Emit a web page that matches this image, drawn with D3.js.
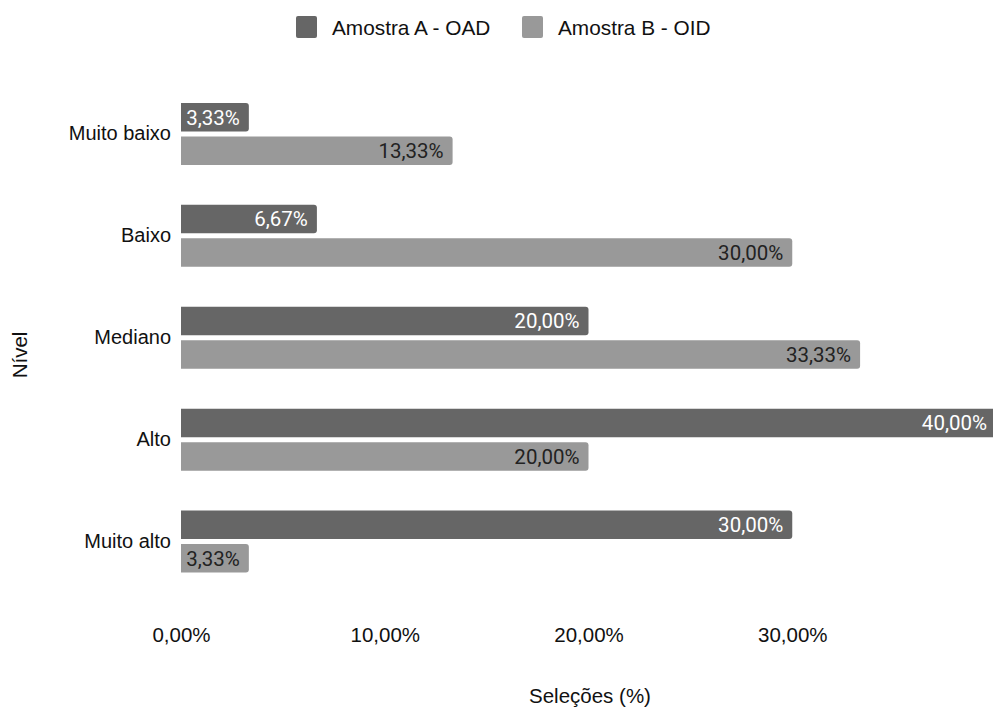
<!DOCTYPE html>
<html>
<head>
<meta charset="utf-8">
<script src="https://cdn.jsdelivr.net/npm/d3@7"></script>
<style>
  html, body { margin: 0; padding: 0; background: #fff; }
  svg { display: block; }
</style>
</head>
<body>
<script>
// Níveis avaliados e percentual de seleções por amostra
const categories = ["Muito baixo", "Baixo", "Mediano", "Alto", "Muito alto"];
const seriesNames = ["Amostra A - OAD", "Amostra B - OID"];
const amostraA = [3.33, 6.67, 20.00, 40.00, 30.00];
const amostraB = [13.33, 30.00, 33.33, 20.00, 3.33];
const xTicks = [0, 10, 20, 30];
const seriesColors = ["#666666", "#999999"];
const labelColors = ["#ffffff", "#222222"];

const W = 993, H = 708;
const svg = d3.select("body").append("svg").attr("width", W).attr("height", H);

const x = d3.scaleLinear().domain([0, 40]).range([181, 996]);
const y0 = d3.scaleBand().domain(categories).range([83, 592.5]).paddingInner(0.392).paddingOuter(0.196);
const y1 = d3.scaleBand().domain(seriesNames).range([0, y0.bandwidth()]).paddingInner(0.149);

const fmt = v => d3.format(".2f")(v).replace(".", ",") + "%";

const rows = categories.map((c, i) => ({
  cat: c,
  vals: [
    { s: seriesNames[0], v: amostraA[i], k: 0 },
    { s: seriesNames[1], v: amostraB[i], k: 1 }
  ]
}));

// Bar with rounded corners on the value end only
function barPath(x0, x1, yTop, h, r) {
  r = Math.min(r, (x1 - x0) / 2, h / 2);
  return `M${x0},${yTop}H${x1 - r}Q${x1},${yTop} ${x1},${yTop + r}` +
         `V${yTop + h - r}Q${x1},${yTop + h} ${x1 - r},${yTop + h}H${x0}Z`;
}

const groups = svg.append("g").selectAll("g").data(rows).join("g")
  .attr("transform", d => `translate(0,${y0(d.cat)})`);

groups.selectAll("path").data(d => d.vals).join("path")
  .attr("d", d => barPath(x(0), x(d.v), y1(d.s), y1.bandwidth(), 3))
  .attr("fill", d => seriesColors[d.k]);

groups.selectAll("text").data(d => d.vals).join("text")
  .attr("x", d => x(d.v) - 9)
  .attr("y", d => y1(d.s) + y1.bandwidth() / 2)
  .attr("dy", "0.36em")
  .attr("text-anchor", "end")
  .attr("font-family", "Roboto, sans-serif")
  .attr("font-size", 20.5)
  .attr("fill", d => labelColors[d.k])
  .text(d => fmt(d.v));

// Category labels
const yAxis = d3.axisLeft(y0).tickSize(0).tickPadding(10);
const gy = svg.append("g").attr("transform", `translate(${x(0)},0)`).call(yAxis);
gy.select(".domain").remove();
gy.selectAll("text")
  .attr("font-family", "'Liberation Sans', Arial, sans-serif")
  .attr("font-size", 20)
  .attr("fill", "#111");

// Value axis labels
const xAxis = d3.axisBottom(x).tickValues(xTicks).tickSize(0).tickPadding(0).tickFormat(fmt);
const gx = svg.append("g").attr("transform", "translate(0,627)").call(xAxis);
gx.select(".domain").remove();
gx.selectAll("text")
  .attr("font-family", "'Liberation Sans', Arial, sans-serif")
  .attr("font-size", 20.5)
  .attr("fill", "#111");

// Axis titles
svg.append("text")
  .attr("x", 590).attr("y", 703)
  .attr("text-anchor", "middle")
  .attr("font-family", "'Liberation Sans', Arial, sans-serif")
  .attr("font-size", 20.5)
  .attr("fill", "#111")
  .text("Seleções (%)");

svg.append("text")
  .attr("transform", "translate(27,355) rotate(-90)")
  .attr("text-anchor", "middle")
  .attr("font-family", "'Liberation Sans', Arial, sans-serif")
  .attr("font-size", 20.5)
  .attr("fill", "#111")
  .text("Nível");

// Legend
const legendX = [296, 522];
const legend = svg.append("g").selectAll("g").data(seriesNames).join("g")
  .attr("transform", (d, i) => `translate(${legendX[i]},16)`);
legend.append("rect")
  .attr("width", 21).attr("height", 22).attr("rx", 2)
  .attr("fill", (d, i) => seriesColors[i]);
legend.append("text")
  .attr("x", 36).attr("y", 11).attr("dy", "0.36em")
  .attr("font-family", "'Liberation Sans', Arial, sans-serif")
  .attr("font-size", 20.8)
  .attr("fill", "#111")
  .text(d => d);
</script>
</body>
</html>
